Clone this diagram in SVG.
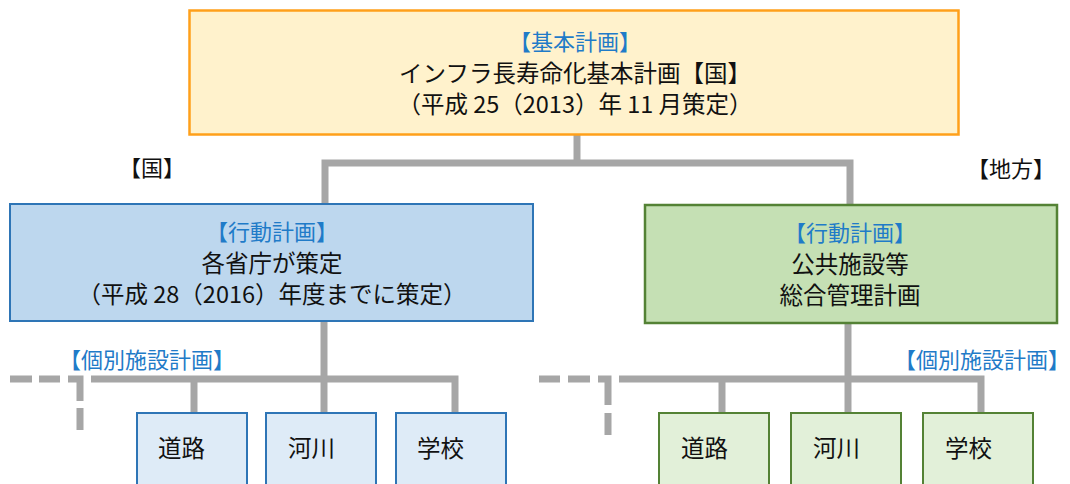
<svg xmlns="http://www.w3.org/2000/svg" width="1070" height="484" viewBox="0 0 1070 484">
<style>
text{font-family:"Noto Sans CJK JP","Noto Sans",sans-serif;fill:#111;}
.c{text-anchor:middle}
.h{fill:#1F7BC8;font-size:22px}
.b{font-size:23.5px}
.lbl{font-size:22px}
.conn{fill:none;stroke:#A6A6A6;stroke-width:7;stroke-linejoin:miter;stroke-linecap:butt}
.top{fill:#FFF2CC;stroke:#FFA01A;stroke-width:2.5}
.blue{fill:#BDD7EE;stroke:#2E75B6;stroke-width:2}
.green{fill:#C5E0B4;stroke:#548235;stroke-width:2.5}
.sblue{fill:#DEEBF7;stroke:#2E75B6;stroke-width:2}
.sgreen{fill:#E2F0D9;stroke:#548235;stroke-width:2}
</style>
<rect width="1070" height="484" fill="#fff"/>
<g id="connectors">
<path class="conn" d="M577,135 V163"/>
<path class="conn" d="M325,204 V163 H850 V205"/>
<path class="conn" d="M324,321 V414"/>
<path class="conn" d="M91,379 H455 V414"/>
<path class="conn" d="M194,379 V414"/>
<path class="conn" d="M10,379 H32 M39,379 H60 M68,379 H80 V401 M80,408 V430"/>
<path class="conn" d="M848,323 V414"/>
<path class="conn" d="M619,379 H981 V414"/>
<path class="conn" d="M722,379 V414"/>
<path class="conn" d="M539,379 H560 M568,379 H590 M598,379 H608 V405 M608,413 V435"/>
</g>
<g id="kihon">
<rect class="top" x="189.5" y="10.5" width="769" height="124"/>
<text class="c h" x="575" y="50">【基本計画】</text>
<text class="c b" x="575" y="82">インフラ長寿命化基本計画【国】</text>
<text class="c b" x="575" y="113">（平成 25（2013）年 11 月策定）</text>
</g>
<g id="label-kuni"><text class="c lbl" x="152" y="176">【国】</text></g>
<g id="label-chiho"><text class="c lbl" x="1011" y="177">【地方】</text></g>
<g id="kodo-kuni">
<rect class="blue" x="10" y="204" width="523" height="117"/>
<text class="c h" x="272" y="240">【行動計画】</text>
<text class="c b" x="272" y="272">各省庁が策定</text>
<text class="c b" x="272" y="303">（平成 28（2016）年度までに策定）</text>
</g>
<g id="kodo-chiho">
<rect class="green" x="645" y="205" width="412" height="118"/>
<text class="c h" x="850" y="241">【行動計画】</text>
<text class="c b" x="850" y="273">公共施設等</text>
<text class="c b" x="850" y="304">総合管理計画</text>
</g>
<g id="kobetsu-label-left"><text class="c h" x="147" y="368">【個別施設計画】</text></g>
<g id="kobetsu-label-right"><text class="c h" x="982" y="368">【個別施設計画】</text></g>
<g id="kuni-doro"><rect class="sblue" x="137" y="413" width="110" height="80"/><text class="b" x="158" y="457">道路</text></g>
<g id="kuni-kasen"><rect class="sblue" x="266" y="413" width="110" height="80"/><text class="b" x="288" y="457">河川</text></g>
<g id="kuni-gakko"><rect class="sblue" x="396" y="413" width="110" height="80"/><text class="b" x="417" y="457">学校</text></g>
<g id="chiho-doro"><rect class="sgreen" x="659" y="413" width="110" height="80"/><text class="b" x="681" y="457">道路</text></g>
<g id="chiho-kasen"><rect class="sgreen" x="791" y="413" width="110" height="80"/><text class="b" x="813" y="457">河川</text></g>
<g id="chiho-gakko"><rect class="sgreen" x="923" y="413" width="110" height="80"/><text class="b" x="945" y="457">学校</text></g>
</svg>
